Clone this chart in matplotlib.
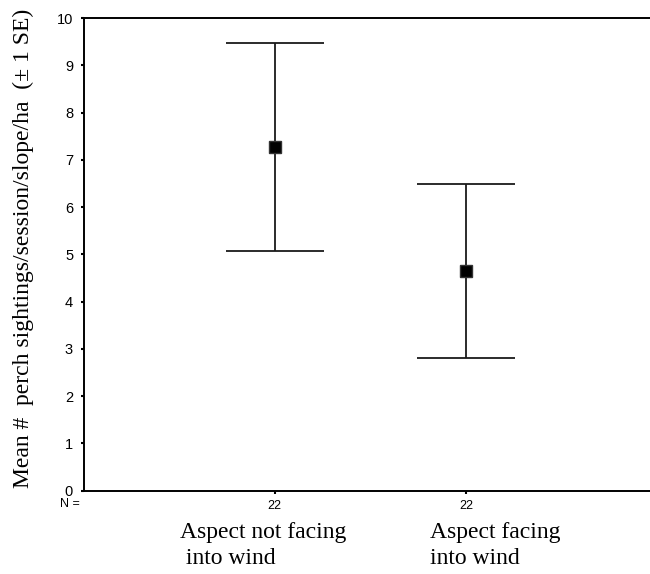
"""Mean perch sightings by slope aspect, +/- 1 SE."""

import matplotlib

matplotlib.use("Agg")
import matplotlib.pyplot as plt
import matplotlib.transforms as mtransforms

groups = [["Aspect not facing", " into wind"], ["Aspect facing", "into wind"]]
group_n = ["22", "22"]
means = [7.27, 4.64]
se = [2.2, 1.84]
y_ticks = list(range(0, 11))


def main() -> None:
    W, H = 650, 574
    fig = plt.figure(figsize=(6.5, 5.74), dpi=100)
    ax = fig.add_axes([83.5 / W, 0.1451, (657 - 83.5) / W, 0.8235])

    x = list(range(1, len(groups) + 1))
    ax.errorbar(
        x,
        means,
        yerr=se,
        fmt="s",
        color="black",
        ecolor="#1a1a1a",
        elinewidth=1.3,
        capsize=35,
        capthick=1.3,
        markersize=8,
        markeredgecolor="#333333",
    )

    ax.set_xlim(0, 3)
    ax.set_ylim(0, 10)
    ax.set_yticks(y_ticks)
    ax.set_yticklabels([str(t) for t in y_ticks], fontsize=10.5, family="Liberation Sans")
    ax.set_xticks(x)
    ax.set_xticklabels(group_n, fontsize=9, family="Liberation Sans")
    ax.tick_params(axis="both", length=2.5, width=1.5, direction="out")
    ax.tick_params(axis="y", pad=5)
    ax.tick_params(axis="x", pad=4)

    ax.spines["right"].set_visible(False)
    for side in ("left", "bottom", "top"):
        ax.spines[side].set_linewidth(1.4)

    fig.text(
        23 / W,
        1 - 248 / H,
        "Mean #  perch sightings/session/slope/ha  (\u00b1 1 SE)",
        fontsize=17,
        family="Liberation Serif",
        rotation=90,
        ha="center",
        va="center",
    )

    trans = mtransforms.blended_transform_factory(ax.transData, fig.transFigure)
    ax.text(-0.02, 1 - 504 / H, "N =", transform=trans, fontsize=9,
            family="Liberation Sans", ha="right", va="center")

    label_left = [0.505, 1.811]
    for xpos, lines in zip(label_left, groups):
        for baseline, line in zip((538, 564), lines):
            ax.text(xpos, 1 - baseline / H, line, transform=trans, fontsize=17,
                    family="Liberation Serif", ha="left", va="baseline")

    fig.savefig("out.png", dpi=100)


if __name__ == "__main__":
    main()
